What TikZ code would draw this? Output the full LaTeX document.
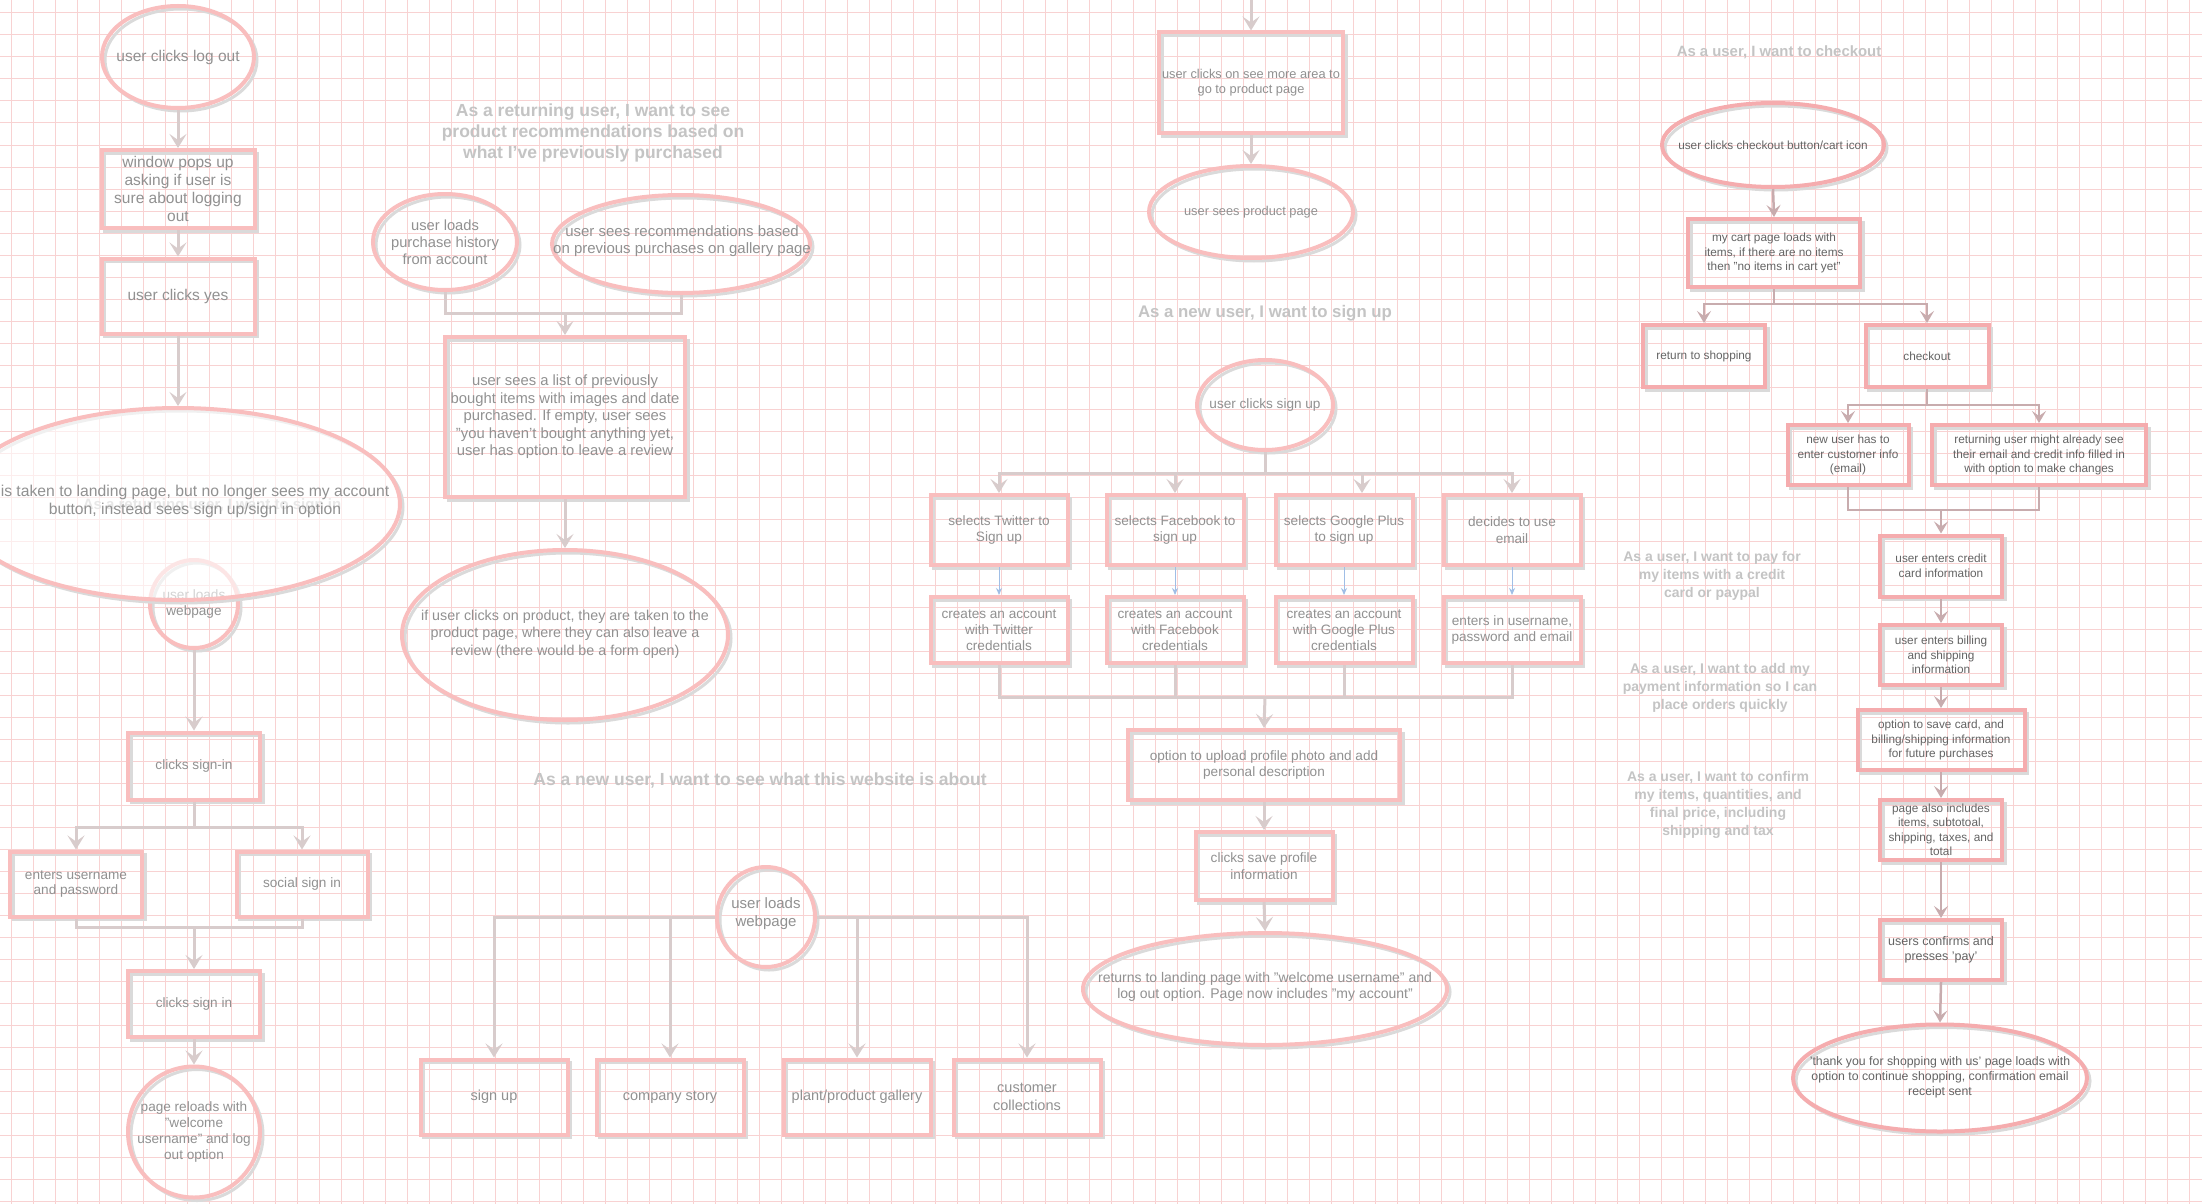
\documentclass[tikz,border=0pt]{standalone}
\usepackage{fontspec}
\setmainfont{Liberation Sans}
\usetikzlibrary{shapes.geometric,arrows.meta}
\definecolor{gridpink}{RGB}{248,210,210}
\definecolor{nodepink}{RGB}{249,190,190}
\definecolor{nodepinkB}{RGB}{245,172,174}
\definecolor{shadowgray}{RGB}{218,218,218}
\definecolor{conngray}{RGB}{216,204,204}
\definecolor{conngrayB}{RGB}{200,172,174}
\definecolor{txt}{RGB}{145,145,145}
\definecolor{txtB}{RGB}{100,100,100}
\definecolor{titlec}{RGB}{196,196,196}
\definecolor{blueline}{RGB}{160,190,230}
\tikzset{
  shadowed/.style={preaction={draw=shadowgray, line width=3pt, transform canvas={xshift=3pt,yshift=-3pt}}},
  rbox/.style={rectangle, draw=nodepink, line width=4pt, shadowed, text=txt, align=center, inner sep=2pt},
  ell/.style={ellipse, draw=nodepink, line width=4pt, shadowed, inner sep=0pt},
  ckbox/.style={rbox, draw=nodepinkB, text=txtB},
  ckell/.style={ell, draw=nodepinkB},
  lt/.style={text=txt, align=center, inner sep=0pt},
  ltB/.style={text=txtB, align=center, inner sep=0pt},
  ttl/.style={text=titlec, align=center, inner sep=0pt, font=\bfseries\fontsize{17.5}{21}\selectfont},
  sty/.style={text=titlec, align=center, inner sep=0pt, font=\bfseries\fontsize{14}{18}\selectfont},
  fL/.style={font=\fontsize{15.5}{17.7}\selectfont},
  fLs/.style={font=\fontsize{13.6}{15.7}\selectfont},
  fM/.style={font=\fontsize{14.8}{17.5}\selectfont},
  fB/.style={font=\fontsize{14.5}{18.3}\selectfont},
  fR/.style={font=\fontsize{13.6}{16.7}\selectfont},
  fRs/.style={font=\fontsize{12.8}{15}\selectfont},
  fC/.style={font=\fontsize{11.8}{14.5}\selectfont},
  cline/.style={draw=conngray, line width=3pt},
  conn/.style={cline, -{Stealth[length=14pt,width=17pt,inset=6pt]}},
  clineB/.style={draw=conngrayB, line width=2.5pt},
  connB/.style={clineB, -{Stealth[length=12pt,width=14pt,inset=5pt]}},
  blu/.style={draw=blueline, line width=1pt, -{Stealth[length=7pt,width=6pt]}},
}
\begin{document}
\begin{tikzpicture}[x=1pt,y=-1pt]
\useasboundingbox[fill=white] (0,0) rectangle (2202,1204);
% grid
\foreach \gx in {11,33,...,2201} \draw[gridpink, line width=1pt] (\gx,0) -- (\gx,1204);
\foreach \gy in {13,35,...,1203} \draw[gridpink, line width=1pt] (0,\gy) -- (2202,\gy);

% ===== left column =====
\node[ell, minimum width=152pt, minimum height=102pt] (lo) at (178,57) {};
\node[lt, fL] (lo-t) at (lo.center) {user clicks log out};
\node[rbox, fL, minimum width=153pt, minimum height=78pt] (wp) at (178,189) {window pops up\\asking if user is\\sure about logging\\out};
\node[rbox, fL, minimum width=153pt, minimum height=75pt] (cy) at (178,296) {user clicks yes};
\node[text=titlec, font=\bfseries\fontsize{15}{18}\selectfont, inner sep=0pt] (rsi) at (212,506) {As a returning user, I want to sign in};
\node[ell, minimum width=88pt, minimum height=88pt] (ulw) at (194,604) {};
\node[lt, fLs] (ulw-t) at (ulw.center) {user loads\\webpage};
\node[ell, minimum width=444pt, minimum height=192pt, fill=white, fill opacity=0.6] (land) at (178,504) {};
\node[lt, font=\fontsize{15.7}{18}\selectfont] (land-t) at (195,501) {is taken to landing page, but no longer sees my account\\button, instead sees sign up/sign in option};
\node[rbox, fLs, minimum width=132pt, minimum height=67pt] (csi) at (194,766) {clicks sign-in};
\node[rbox, fLs, minimum width=132pt, minimum height=65pt] (eup) at (76,884) {enters username\\and password};
\node[rbox, fLs, minimum width=131pt, minimum height=65pt] (ssi) at (302,884) {social sign in};
\node[rbox, fLs, minimum width=132pt, minimum height=66pt] (csi2) at (194,1004) {clicks sign in};
\node[ell, minimum width=132pt, minimum height=131pt] (prl) at (194,1132) {};
\node[lt, fLs] (prl-t) at (prl.center) {page reloads with\\"welcome\\username" and log\\out option};

\draw[conn] (lo.south) -- (wp.north);
\draw[conn] (wp.south) -- (cy.north);
\draw[conn] (cy.south) -- (land.north);
\draw[conn] (ulw.south) -- (csi.north);
\coordinate (j1) at (194,827);
\draw[cline] (csi.south) -- (j1);
\draw[conn] (j1) -| (eup.north);
\draw[conn] (j1) -| (ssi.north);
\coordinate (j2) at (194,927);
\draw[cline] (eup.south) |- (j2);
\draw[cline] (ssi.south) |- (j2);
\draw[conn] (j2) -- (csi2.north);
\draw[conn] (csi2.south) -- (prl.north);

% ===== middle: purchase history =====
\node[ttl] (t1) at (593,133) {As a returning user, I want to see\\product recommendations based on\\what I've previously purchased};
\node[ell, minimum width=144pt, minimum height=96pt] (uph) at (445,242) {};
\node[lt, font=\fontsize{14.7}{17}\selectfont] (uph-t) at (uph.center) {user loads\\purchase history\\from account};
\node[ell, minimum width=258pt, minimum height=98pt] (urec) at (681,244) {};
\node[lt, font=\fontsize{15}{17.5}\selectfont] (urec-t) at (682,241) {user sees recommendations based\\on previous purchases on gallery page};
\node[rbox, fM, minimum width=240pt, minimum height=160pt] (list) at (565,417) {user sees a list of previously\\bought items with images and date\\purchased. If empty, user sees\\"you haven't bought anything yet,\\user has option to leave a review};
\node[ell, minimum width=326pt, minimum height=170pt] (rev) at (565,635) {};
\node[lt, font=\fontsize{14.3}{17.5}\selectfont] (rev-t) at (565,634) {if user clicks on product, they are taken to the\\product page, where they can also leave a\\review (there would be a form open)};
\coordinate (j3) at (565,313);
\draw[cline] (uph.south) |- (j3);
\draw[cline] (urec.south) |- (j3);
\draw[conn] (j3) -- (list.north);
\draw[conn] (list.south) -- (rev.north);

% ===== bottom middle: website about =====
\node[ttl] (t2) at (760,781) {As a new user, I want to see what this website is about};
\node[ell, minimum width=98pt, minimum height=100pt] (ulw2) at (766,917) {};
\node[lt, font=\fontsize{15}{18}\selectfont] (ulw2-t) at (766,914) {user loads\\webpage};
\node[rbox, fB, minimum width=147pt, minimum height=75pt] (su) at (494,1097) {sign up};
\node[rbox, fB, minimum width=147pt, minimum height=75pt] (cs) at (670,1097) {company story};
\node[rbox, fB, minimum width=147pt, minimum height=75pt] (pg) at (857,1097) {plant/product gallery};
\node[rbox, fB, minimum width=147pt, minimum height=75pt] (cc) at (1027,1097) {customer\\collections};
\draw[conn] (ulw2.west) -| (su.north);
\draw[conn] (ulw2.west) -| (cs.north);
\draw[conn] (ulw2.east) -| (pg.north);
\draw[conn] (ulw2.east) -| (cc.north);

% ===== right middle: product page / sign up =====
\coordinate (topin) at (1251,-2);
\node[rbox, fRs, minimum width=184pt, minimum height=101pt] (smr) at (1251,83) {user clicks on see more area to\\go to product page};
\node[ell, minimum width=204pt, minimum height=92pt] (spp) at (1251,212) {};
\node[lt, fRs] (spp-t) at (spp.center) {user sees product page};
\draw[conn] (topin) -- (smr.north);
\draw[conn] (smr.south) -- (spp.north);

\node[ttl, font=\bfseries\fontsize{16.8}{20}\selectfont] (t3) at (1265,313) {As a new user, I want to sign up};
\node[ell, minimum width=136pt, minimum height=90pt] (ucs) at (1265,405) {};
\node[lt, fR] (ucs-t) at (ucs.center) {user clicks sign up};
\node[rbox, fR, minimum width=137pt, minimum height=70pt] (tw) at (999,530) {selects Twitter to\\Sign up};
\node[rbox, fR, minimum width=137pt, minimum height=70pt] (fb) at (1175,530) {selects Facebook to\\sign up};
\node[rbox, fR, minimum width=137pt, minimum height=70pt] (gp) at (1344,530) {selects Google Plus\\to sign up};
\node[rbox, fR, minimum width=137pt, minimum height=70pt] (em) at (1512,530) {decides to use\\email};
\node[rbox, font=\fontsize{13.6}{16}\selectfont, minimum width=137pt, minimum height=66pt] (tw2) at (999,630) {creates an account\\with Twitter\\credentials};
\node[rbox, font=\fontsize{13.6}{16}\selectfont, minimum width=137pt, minimum height=66pt] (fb2) at (1175,630) {creates an account\\with Facebook\\credentials};
\node[rbox, font=\fontsize{13.6}{16}\selectfont, minimum width=137pt, minimum height=66pt] (gp2) at (1344,630) {creates an account\\with Google Plus\\credentials};
\node[rbox, font=\fontsize{13.6}{16.7}\selectfont, minimum width=137pt, minimum height=66pt] (em2) at (1512,630) {enters in username,\\password and email};
\coordinate (j5) at (1265,473);
\draw[cline] (ucs.south) -- (j5);
\draw[conn] (j5) -| (tw.north);
\draw[conn] (j5) -| (fb.north);
\draw[conn] (j5) -| ([xshift=18pt]gp.north);
\draw[conn] (j5) -| (em.north);
\draw[blu] (tw.south) -- (tw2.north);
\draw[blu] (fb.south) -- (fb2.north);
\draw[blu] (gp.south) -- (gp2.north);
\draw[blu] (em.south) -- (em2.north);
\coordinate (j6) at (1265,697);
\draw[cline] (tw2.south) |- (j6);
\draw[cline] (em2.south) |- (j6);
\draw[cline] (fb2.south) -- (fb2.south |- j6);
\draw[cline] (gp2.south) -- (gp2.south |- j6);
\node[rbox, fR, minimum width=272pt, minimum height=70pt] (opt) at (1264,765) {option to upload profile photo and add\\personal description};
\node[rbox, fR, minimum width=137pt, minimum height=68pt] (csp) at (1264,866) {clicks save profile\\information};
\node[ell, minimum width=364pt, minimum height=112pt] (ret) at (1265,989) {};
\node[lt, font=\fontsize{14}{16.7}\selectfont] (ret-t) at (1265,987) {returns to landing page with "welcome username" and\\log out option. Page now includes "my account"};
\draw[conn] (j6) -- (opt.north);
\draw[conn] (opt.south) -- (csp.north);
\draw[conn] (csp.south) -- (ret.north);

% ===== checkout =====
\node[ttl, font=\bfseries\fontsize{14.9}{18}\selectfont] (t4) at (1779,52) {As a user, I want to checkout};
\node[ckell, minimum width=222pt, minimum height=84pt] (cko) at (1773,145) {};
\node[ltB, fC] (cko-t) at (cko.center) {user clicks checkout button/cart icon};
\node[ckbox, fC, minimum width=172pt, minimum height=68pt] (cart) at (1774,253) {my cart page loads with\\items, if there are no items\\then "no items in cart yet"};
\node[ckbox, fC, minimum width=122pt, minimum height=62pt] (rts) at (1704,356) {return to shopping};
\node[ckbox, fC, minimum width=123pt, minimum height=62pt] (chk) at (1927,356) {checkout};
\node[ckbox, fC, minimum width=121pt, minimum height=60pt] (nu) at (1848,455) {new user has to\\enter customer info\\(email)};
\node[ckbox, fC, minimum width=214pt, minimum height=60pt] (ru) at (2039,455) {returning user might already see\\their email and credit info filled in\\with option to make changes};
\node[ckbox, fC, minimum width=122pt, minimum height=61pt] (cc1) at (1941,566) {user enters credit\\card information};
\node[ckbox, fC, minimum width=122pt, minimum height=60pt] (bill) at (1941,655) {user enters billing\\and shipping\\information};
\node[ckbox, fC, minimum width=167pt, minimum height=60pt] (save) at (1941,740) {option to save card, and\\billing/shipping information\\for future purchases};
\node[ckbox, fC, minimum width=122pt, minimum height=60pt] (inc) at (1941,830) {page also includes\\items, subtotoal,\\shipping, taxes, and\\total};
\node[ckbox, font=\fontsize{12.5}{15.5}\selectfont, minimum width=122pt, minimum height=60pt] (pay) at (1941,950) {users confirms and\\presses 'pay'};
\node[ckell, minimum width=294pt, minimum height=107pt] (ty) at (1940,1078) {};
\node[ltB, font=\fontsize{12.3}{15}\selectfont] (ty-t) at (1940,1077) {'thank you for shopping with us' page loads with\\option to continue shopping, confirmation email\\receipt sent};
\node[sty] (s1) at (1712,576) {As a user, I want to pay for\\my items with a credit\\card or paypal};
\node[sty] (s2) at (1720,688) {As a user, I want to add my\\payment information so I can\\place orders quickly};
\node[sty] (s3) at (1718,805) {As a user, I want to confirm\\my items, quantities, and\\final price, including\\shipping and tax};

\draw[connB] (cko.south) -- (cart.north);
\coordinate (k1) at (1774,304);
\draw[clineB] (cart.south) -- (k1);
\draw[connB] (k1) -| (rts.north);
\draw[connB] (k1) -| (chk.north);
\coordinate (k2) at (1927,405);
\draw[clineB] (chk.south) -- (k2);
\draw[connB] (k2) -| (nu.north);
\draw[connB] (k2) -| (ru.north);
\coordinate (k3) at (1941,510);
\draw[clineB] (nu.south) |- (k3);
\draw[clineB] (ru.south) |- (k3);
\draw[connB] (k3) -- (cc1.north);
\draw[connB] (cc1.south) -- (bill.north);
\draw[connB] (bill.south) -- (save.north);
\draw[connB] (save.south) -- (inc.north);
\draw[connB] (inc.south) -- (pay.north);
\draw[connB] (pay.south) -- (ty.north);
\end{tikzpicture}
\end{document}
